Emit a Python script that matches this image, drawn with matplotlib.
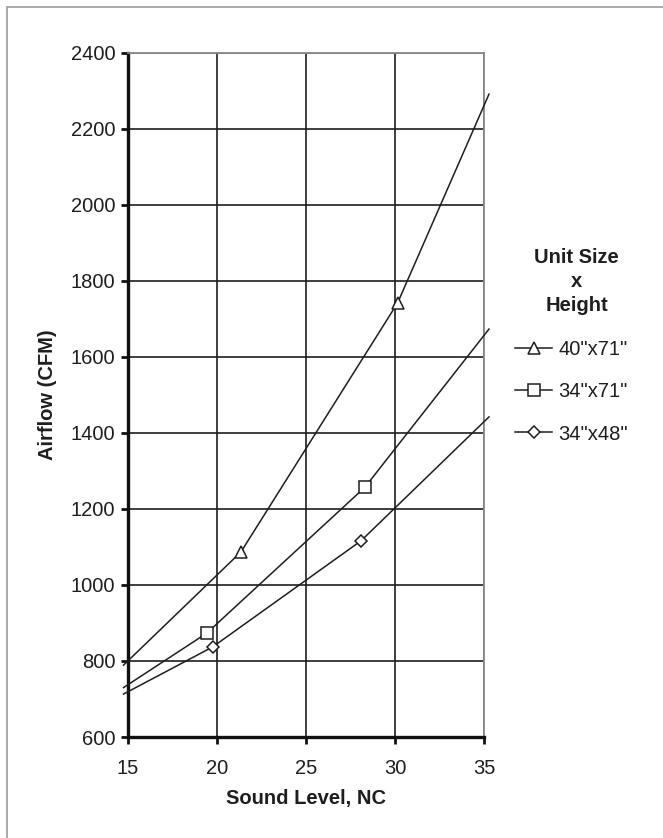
import matplotlib
matplotlib.use("Agg")
import matplotlib.pyplot as plt
from matplotlib.lines import Line2D
from matplotlib.patches import Rectangle

plt.rcParams['font.family'] = ['Liberation Sans', 'DejaVu Sans']

# first/last points sit just outside the axis range
nc_40x71 = [14.75, 21.35, 30.15, 35.28]
cfm_40x71 = [789, 1087, 1742, 2291]
nc_34x71 = [14.75, 19.42, 28.31, 35.28]
cfm_34x71 = [730, 873, 1257, 1673]
nc_34x48 = [14.75, 19.76, 28.09, 35.28]
cfm_34x48 = [713, 837, 1116, 1442]

labels = ['40"x71"', '34"x71"', '34"x48"']
markers = ['^', 's', 'D']
msizes = [9, 8, 6]

xticks = [15, 20, 25, 30, 35]
yticks = list(range(600, 2401, 200))

ink = '#1e1e1e'

fig = plt.figure(figsize=(6.63, 8.38), dpi=100)
ax = fig.add_axes([0.193, 0.1205, 0.537, 0.8166])

series = [(nc_40x71, cfm_40x71), (nc_34x71, cfm_34x71), (nc_34x48, cfm_34x48)]
handles = []
for (xs, ys), lab, m, ms in zip(series, labels, markers, msizes):
    ax.plot(xs, ys, color=ink, lw=1.1, clip_on=False, zorder=3)
    # markers only at the measured points
    ax.plot(xs[1:-1], ys[1:-1], linestyle='none', marker=m, ms=ms,
            mfc='white', mec=ink, mew=1.1, zorder=4)
    handles.append(Line2D([], [], color=ink, lw=1.1, marker=m, ms=ms,
                          mfc='white', mec=ink, mew=1.1, label=lab))

ax.set_xlim(15, 35)
ax.set_ylim(600, 2400)
ax.set_xticks(xticks)
ax.set_yticks(yticks)
ax.grid(True, color=ink, lw=1.2, zorder=1)
ax.set_axisbelow(True)

for s in ['left', 'bottom']:
    ax.spines[s].set_linewidth(2.4)
    ax.spines[s].set_color('#111111')
for s in ['top', 'right']:
    ax.spines[s].set_linewidth(1.3)
    ax.spines[s].set_color('#8a8a8a')

ax.tick_params(axis='both', direction='out', length=5, width=2,
               color='#111111', labelsize=14.5, labelcolor=ink, pad=4)
ax.tick_params(axis='x', pad=11)

ax.set_xlabel('Sound Level, NC', fontsize=14.5, fontweight='bold', color=ink, labelpad=8)
ax.set_ylabel('Airflow (CFM)', fontsize=14.5, fontweight='bold', color=ink, labelpad=10)

fig.text(0.870, 0.664, 'Unit Size\nx\nHeight', ha='center', va='center',
         fontsize=14.5, fontweight='bold', color=ink, linespacing=1.35)

fig.legend(handles=handles, loc='upper left', bbox_to_anchor=(0.777, 0.594),
           frameon=False, fontsize=14.5, handlelength=1.85, handletextpad=0.3,
           labelspacing=1.15, labelcolor=ink, borderpad=0, borderaxespad=0)

# outer frame (only top and left edges fall inside the image)
fig.add_artist(Rectangle((7 / 663, -0.1), 1.2, 1.1 - 7 / 838,
                         transform=fig.transFigure, fill=False,
                         edgecolor='#9a9a9a', lw=1.2, clip_on=False))

fig.savefig('out.png', dpi=100)
